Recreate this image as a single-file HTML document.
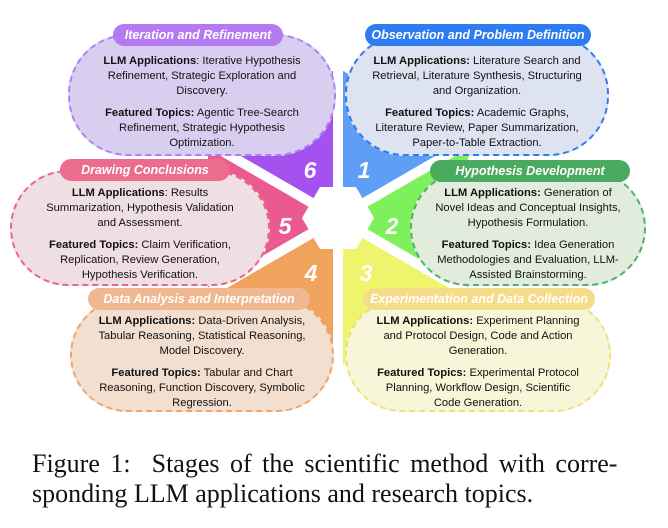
<!DOCTYPE html>
<html><head><meta charset="utf-8"><style>
body{margin:0;width:668px;height:528px;background:#fff;position:relative;overflow:hidden;font-family:"Liberation Sans",sans-serif}
.box{position:absolute;border:2.5px dashed;border-radius:60px;box-sizing:border-box;text-align:center;font-size:11.2px;line-height:15px;color:#111;padding-top:18px;white-space:nowrap}
.box p{margin:0 0 7px 0}
.pill{position:absolute;border-radius:12px;color:#fff;font-weight:bold;font-style:italic;font-size:12.5px;text-align:center;line-height:22px;height:22px;white-space:nowrap}
.cap{position:absolute;left:32px;font-family:"Liberation Serif",serif;font-size:26px;color:#111;white-space:nowrap}
</style></head><body>
<svg width="668" height="528" style="position:absolute;left:0;top:0">
<g transform="translate(338,218)">
<polygon points="0,0 0,-150 -130,-75" fill="#a352ef"/>
<polygon points="0,0 0,-150 130,-75" fill="#5f9ef5"/>
<polygon points="0,0 130,-75 130,75" fill="#7ef05c"/>
<polygon points="0,0 130,75 0,150" fill="#eef56c"/>
<polygon points="0,0 0,150 -130,75" fill="#f0a35c"/>
<polygon points="0,0 -130,75 -130,-75" fill="#ea5a90"/>
<g stroke="#fff" stroke-width="10">
<line x1="0" y1="0" x2="0" y2="-160"/><line x1="0" y1="0" x2="0" y2="160"/>
<line x1="0" y1="0" x2="140" y2="-81"/><line x1="0" y1="0" x2="140" y2="81"/>
<line x1="0" y1="0" x2="-140" y2="-81"/><line x1="0" y1="0" x2="-140" y2="81"/>
</g>
<polygon points="36,0 18,-31 -18,-31 -36,0 -18,31 18,31" fill="#fff"/>
<g fill="#fff" font-family="Liberation Sans" font-weight="bold" font-style="italic" font-size="23" text-anchor="middle">
<text x="-28" y="-40">6</text><text x="26" y="-40">1</text>
<text x="54" y="16">2</text><text x="-53" y="16">5</text>
<text x="28" y="63">3</text><text x="-27" y="63">4</text>
</g></g></svg>

<div class="box" style="left:68px;top:34px;width:268px;height:122px;background:#d8cff0;border-color:#b07ef5">
<p><b>LLM Applications</b>: Iterative Hypothesis<br>Refinement, Strategic Exploration and<br>Discovery.</p>
<p><b>Featured Topics:</b> Agentic Tree-Search<br>Refinement, Strategic Hypothesis<br>Optimization.</p></div>
<div class="pill" style="left:113px;top:24px;width:170px;background:#b57af2">Iteration and Refinement</div>

<div class="box" style="left:345px;top:34px;width:264px;height:122px;background:#dde3f0;border-color:#2f7bf0">
<p><b>LLM Applications:</b> Literature Search and<br>Retrieval, Literature Synthesis, Structuring<br>and Organization.</p>
<p><b>Featured Topics:</b> Academic Graphs,<br>Literature Review, Paper Summarization,<br>Paper-to-Table Extraction.</p></div>
<div class="pill" style="left:365px;top:24px;width:226px;background:#2f7bf0">Observation and Problem Definition</div>

<div class="box" style="left:10px;top:170px;width:260px;height:116px;background:#efdfe3;border-color:#e8668a;padding-top:14px">
<p><b>LLM Applications</b>: Results<br>Summarization, Hypothesis Validation<br>and Assessment.</p>
<p><b>Featured Topics:</b> Claim Verification,<br>Replication, Review Generation,<br>Hypothesis Verification.</p></div>
<div class="pill" style="left:60px;top:159px;width:170px;background:#ec6c8d">Drawing Conclusions</div>

<div class="box" style="left:410px;top:170px;width:236px;height:116px;background:#e2ecdc;border-color:#4db26a;padding-top:14px">
<p><b>LLM Applications:</b> Generation of<br>Novel Ideas and Conceptual Insights,<br>Hypothesis Formulation.</p>
<p><b>Featured Topics:</b> Idea Generation<br>Methodologies and Evaluation, LLM-<br>Assisted Brainstorming.</p></div>
<div class="pill" style="left:430px;top:160px;width:200px;background:#4aaa5e">Hypothesis Development</div>

<div class="box" style="left:70px;top:298px;width:264px;height:114px;background:#f3dfd0;border-color:#f0a36a;padding-top:14px">
<p><b>LLM Applications:</b> Data-Driven Analysis,<br>Tabular Reasoning, Statistical Reasoning,<br>Model Discovery.</p>
<p><b>Featured Topics:</b> Tabular and Chart<br>Reasoning, Function Discovery, Symbolic<br>Regression.</p></div>
<div class="pill" style="left:88px;top:288px;width:222px;background:#efb890">Data Analysis and Interpretation</div>

<div class="box" style="left:345px;top:298px;width:266px;height:114px;background:#f7f6d8;border-color:#f0e07a;padding-top:14px">
<p><b>LLM Applications:</b> Experiment Planning<br>and Protocol Design, Code and Action<br>Generation.</p>
<p><b>Featured Topics:</b> Experimental Protocol<br>Planning, Workflow Design, Scientific<br>Code Generation.</p></div>
<div class="pill" style="left:363px;top:288px;width:232px;background:#f5dc88">Experimentation and Data Collection</div>

<div class="cap" style="top:449px;word-spacing:4px">Figure 1:&nbsp; Stages of the scientific method with corre-</div>
<div class="cap" style="top:479px">sponding LLM applications and research topics.</div>
</body></html>
